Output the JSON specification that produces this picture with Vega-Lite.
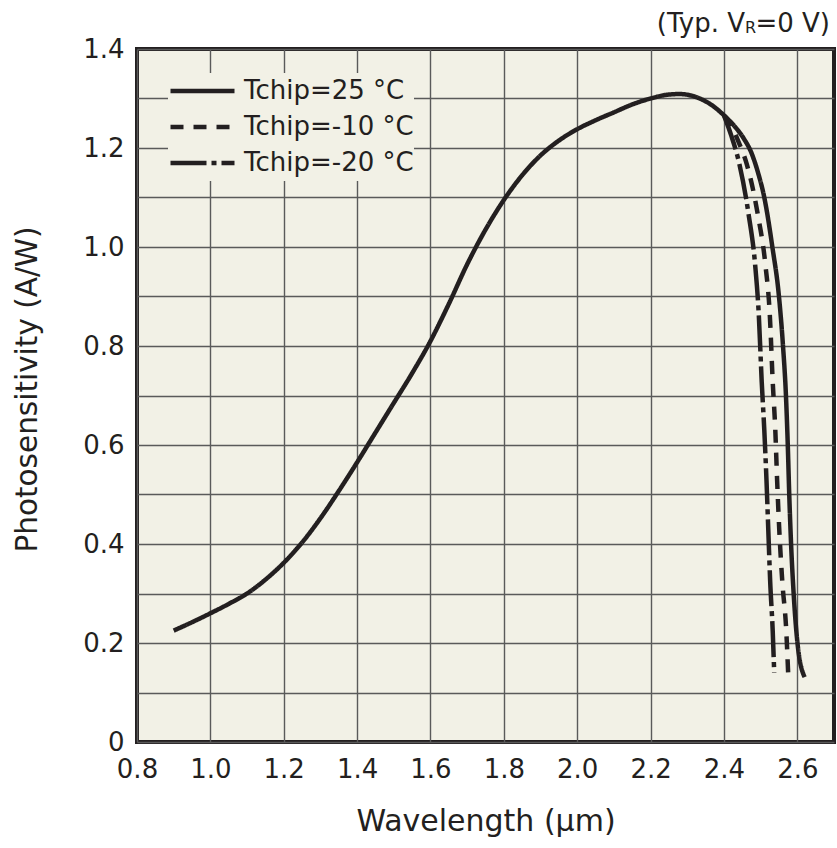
{
  "$schema": "https://vega.github.io/schema/vega-lite/v6.json",
  "width": 697,
  "height": 693,
  "autosize": {"type": "none"},
  "padding": {"left": 137, "top": 49, "right": 3, "bottom": 106},
  "background": "#ffffff",
  "config": {
    "view": {"fill": "#f2f1e6", "stroke": "#231f20", "strokeWidth": 4},
    "axis": {"gridColor": "#5a5a5a", "gridWidth": 1.4, "gridOpacity": 1, "ticks": false, "domain": false, "labelColor": "#231f20", "titleColor": "#231f20", "titleFontWeight": "normal", "labelFlush": false}
  },
  "datasets": {
    "curves": [
      {"series": "Tchip=25 °C", "wl": 0.9, "ps": 0.225},
      {"series": "Tchip=25 °C", "wl": 0.95, "ps": 0.242},
      {"series": "Tchip=25 °C", "wl": 1.0, "ps": 0.26},
      {"series": "Tchip=25 °C", "wl": 1.05, "ps": 0.279},
      {"series": "Tchip=25 °C", "wl": 1.1, "ps": 0.30},
      {"series": "Tchip=25 °C", "wl": 1.15, "ps": 0.328},
      {"series": "Tchip=25 °C", "wl": 1.2, "ps": 0.362},
      {"series": "Tchip=25 °C", "wl": 1.25, "ps": 0.403},
      {"series": "Tchip=25 °C", "wl": 1.3, "ps": 0.452},
      {"series": "Tchip=25 °C", "wl": 1.35, "ps": 0.507},
      {"series": "Tchip=25 °C", "wl": 1.4, "ps": 0.565},
      {"series": "Tchip=25 °C", "wl": 1.45, "ps": 0.625},
      {"series": "Tchip=25 °C", "wl": 1.5, "ps": 0.685},
      {"series": "Tchip=25 °C", "wl": 1.55, "ps": 0.745},
      {"series": "Tchip=25 °C", "wl": 1.6, "ps": 0.81},
      {"series": "Tchip=25 °C", "wl": 1.65, "ps": 0.885},
      {"series": "Tchip=25 °C", "wl": 1.7, "ps": 0.965},
      {"series": "Tchip=25 °C", "wl": 1.75, "ps": 1.035},
      {"series": "Tchip=25 °C", "wl": 1.8, "ps": 1.095},
      {"series": "Tchip=25 °C", "wl": 1.85, "ps": 1.145},
      {"series": "Tchip=25 °C", "wl": 1.9, "ps": 1.185},
      {"series": "Tchip=25 °C", "wl": 1.95, "ps": 1.215},
      {"series": "Tchip=25 °C", "wl": 2.0, "ps": 1.238},
      {"series": "Tchip=25 °C", "wl": 2.05, "ps": 1.256},
      {"series": "Tchip=25 °C", "wl": 2.1, "ps": 1.272},
      {"series": "Tchip=25 °C", "wl": 2.15, "ps": 1.288},
      {"series": "Tchip=25 °C", "wl": 2.2, "ps": 1.300},
      {"series": "Tchip=25 °C", "wl": 2.25, "ps": 1.308},
      {"series": "Tchip=25 °C", "wl": 2.28, "ps": 1.309},
      {"series": "Tchip=25 °C", "wl": 2.31, "ps": 1.306},
      {"series": "Tchip=25 °C", "wl": 2.34, "ps": 1.298},
      {"series": "Tchip=25 °C", "wl": 2.37, "ps": 1.285},
      {"series": "Tchip=25 °C", "wl": 2.4, "ps": 1.266},
      {"series": "Tchip=25 °C", "wl": 2.43, "ps": 1.243},
      {"series": "Tchip=25 °C", "wl": 2.455, "ps": 1.218},
      {"series": "Tchip=25 °C", "wl": 2.475, "ps": 1.19},
      {"series": "Tchip=25 °C", "wl": 2.493, "ps": 1.15},
      {"series": "Tchip=25 °C", "wl": 2.51, "ps": 1.1},
      {"series": "Tchip=25 °C", "wl": 2.532, "ps": 1.0},
      {"series": "Tchip=25 °C", "wl": 2.55, "ps": 0.9},
      {"series": "Tchip=25 °C", "wl": 2.561, "ps": 0.8},
      {"series": "Tchip=25 °C", "wl": 2.569, "ps": 0.7},
      {"series": "Tchip=25 °C", "wl": 2.574, "ps": 0.6},
      {"series": "Tchip=25 °C", "wl": 2.578, "ps": 0.5},
      {"series": "Tchip=25 °C", "wl": 2.583, "ps": 0.4},
      {"series": "Tchip=25 °C", "wl": 2.59, "ps": 0.3},
      {"series": "Tchip=25 °C", "wl": 2.601, "ps": 0.196},
      {"series": "Tchip=25 °C", "wl": 2.62, "ps": 0.131},
      {"series": "Tchip=-10 °C", "wl": 2.4, "ps": 1.266},
      {"series": "Tchip=-10 °C", "wl": 2.415, "ps": 1.252},
      {"series": "Tchip=-10 °C", "wl": 2.44, "ps": 1.212},
      {"series": "Tchip=-10 °C", "wl": 2.462, "ps": 1.168},
      {"series": "Tchip=-10 °C", "wl": 2.492, "ps": 1.067},
      {"series": "Tchip=-10 °C", "wl": 2.513, "ps": 0.964},
      {"series": "Tchip=-10 °C", "wl": 2.525, "ps": 0.863},
      {"series": "Tchip=-10 °C", "wl": 2.533, "ps": 0.727},
      {"series": "Tchip=-10 °C", "wl": 2.54, "ps": 0.63},
      {"series": "Tchip=-10 °C", "wl": 2.545, "ps": 0.528},
      {"series": "Tchip=-10 °C", "wl": 2.551, "ps": 0.426},
      {"series": "Tchip=-10 °C", "wl": 2.559, "ps": 0.325},
      {"series": "Tchip=-10 °C", "wl": 2.57, "ps": 0.223},
      {"series": "Tchip=-10 °C", "wl": 2.575, "ps": 0.14},
      {"series": "Tchip=-20 °C", "wl": 2.4, "ps": 1.266},
      {"series": "Tchip=-20 °C", "wl": 2.42, "ps": 1.225},
      {"series": "Tchip=-20 °C", "wl": 2.442, "ps": 1.168},
      {"series": "Tchip=-20 °C", "wl": 2.467, "ps": 1.067},
      {"series": "Tchip=-20 °C", "wl": 2.485, "ps": 0.964},
      {"series": "Tchip=-20 °C", "wl": 2.495, "ps": 0.863},
      {"series": "Tchip=-20 °C", "wl": 2.503, "ps": 0.727},
      {"series": "Tchip=-20 °C", "wl": 2.51, "ps": 0.63},
      {"series": "Tchip=-20 °C", "wl": 2.516, "ps": 0.528},
      {"series": "Tchip=-20 °C", "wl": 2.521, "ps": 0.426},
      {"series": "Tchip=-20 °C", "wl": 2.526, "ps": 0.325},
      {"series": "Tchip=-20 °C", "wl": 2.533, "ps": 0.223},
      {"series": "Tchip=-20 °C", "wl": 2.537, "ps": 0.14}
    ],
    "note": [
      {"part": "(Typ. V", "wl": 2.7, "ps": 1.435},
      {"part": "R", "wl": 2.7, "ps": 1.435},
      {"part": "=0 V)", "wl": 2.7, "ps": 1.435}
    ]
  },
  "layer": [
    {
      "data": {"name": "curves"},
      "mark": {"type": "line", "interpolate": "monotone", "strokeWidth": 4.5, "color": "#231f20", "strokeCap": "butt"},
      "encoding": {
        "x": {
          "field": "wl", "type": "quantitative",
          "scale": {"domain": [0.8, 2.7], "nice": false, "zero": false},
          "axis": {
            "values": [0.8, 0.9, 1.0, 1.1, 1.2, 1.3, 1.4, 1.5, 1.6, 1.7, 1.8, 1.9, 2.0, 2.1, 2.2, 2.3, 2.4, 2.5, 2.6, 2.7],
            "labelExpr": "round(datum.value*10)%2==0 && datum.value < 2.65 ? format(datum.value, '.1f') : ''",
            "labelFont": "DejaVu Sans", "labelFontSize": 26, "labelPadding": 14,
            "title": "Wavelength (µm)", "titleFont": "DejaVu Sans", "titleFontSize": 30, "titlePadding": 24
          }
        },
        "y": {
          "field": "ps", "type": "quantitative",
          "scale": {"domain": [0, 1.4], "nice": false},
          "axis": {
            "values": [0, 0.1, 0.2, 0.3, 0.4, 0.5, 0.6, 0.7, 0.8, 0.9, 1.0, 1.1, 1.2, 1.3, 1.4],
            "labelExpr": "round(datum.value*10)%2==0 ? (datum.value == 0 ? '0' : format(datum.value, '.1f')) : ''",
            "labelFont": "DejaVu Sans", "labelFontSize": 26, "labelPadding": 13,
            "title": "Photosensitivity (A/W)", "titleFont": "DejaVu Sans", "titleFontSize": 29.5, "titlePadding": 40, "titleY": 340
          }
        },
        "strokeDash": {
          "field": "series", "type": "nominal",
          "scale": {"domain": ["Tchip=25 °C", "Tchip=-10 °C", "Tchip=-20 °C"], "range": [[1, 0], [13, 10], [36, 5, 5, 5]]},
          "legend": {
            "title": null, "orient": "none", "legendX": 31, "legendY": 24, "padding": 0,
            "fillColor": "#f2f1e6", "strokeColor": null,
            "symbolType": "stroke", "symbolSize": 4096, "symbolStrokeWidth": 4.5, "symbolStrokeColor": "#231f20",
            "labelFont": "DejaVu Sans", "labelFontSize": 26, "labelColor": "#231f20", "labelOffset": 7,
            "clipHeight": 36, "rowPadding": 0, "labelLimit": 400
          }
        }
      }
    },
    {
      "data": {"name": "note"},
      "transform": [{"filter": "datum.part == '=0 V)'"}],
      "mark": {"type": "text", "align": "right", "baseline": "alphabetic", "font": "DejaVu Sans", "fontSize": 26, "color": "#231f20", "dx": -4},
      "encoding": {"x": {"field": "wl", "type": "quantitative"}, "y": {"field": "ps", "type": "quantitative"}, "text": {"field": "part"}}
    },
    {
      "data": {"name": "note"},
      "transform": [{"filter": "datum.part == 'R'"}],
      "mark": {"type": "text", "align": "right", "baseline": "alphabetic", "font": "DejaVu Sans", "fontSize": 16, "color": "#231f20", "dx": -78, "dy": 1},
      "encoding": {"x": {"field": "wl", "type": "quantitative"}, "y": {"field": "ps", "type": "quantitative"}, "text": {"field": "part"}}
    },
    {
      "data": {"name": "note"},
      "transform": [{"filter": "datum.part == '(Typ. V'"}],
      "mark": {"type": "text", "align": "right", "baseline": "alphabetic", "font": "DejaVu Sans", "fontSize": 26, "color": "#231f20", "dx": -89},
      "encoding": {"x": {"field": "wl", "type": "quantitative"}, "y": {"field": "ps", "type": "quantitative"}, "text": {"field": "part"}}
    }
  ]
}
